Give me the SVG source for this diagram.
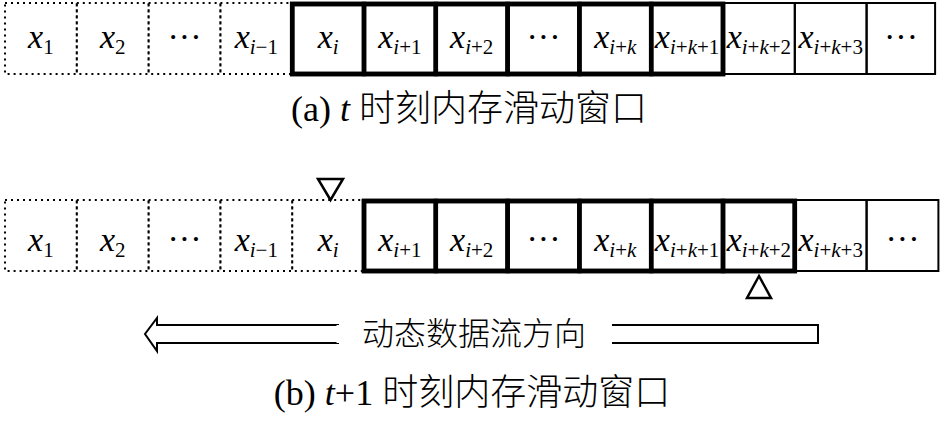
<svg xmlns="http://www.w3.org/2000/svg" width="945" height="423" viewBox="0 0 945 423">
<defs>
<style>
.dot{fill:none;stroke:#000;stroke-width:2;stroke-dasharray:2 4}
.thin{fill:none;stroke:#000;stroke-width:2}
.thick{fill:none;stroke:#000;stroke-width:4.5}
.lbl{font-size:34px;font-style:italic;text-anchor:middle;fill:#000}
.sub{font-size:21px}
.up{font-style:normal}
.cap{font-size:36px;fill:#000;text-anchor:middle}
.tri{fill:#fff;stroke:#000;stroke-width:2.5;stroke-linejoin:miter}
</style>
</defs>
<rect width="945" height="423" fill="#fff"/>

<g font-family="'Liberation Serif', serif">
<!-- Top row (a) -->
<g id="row-a">
<g id="a-x1"><rect class="dot" x="5" y="3" width="71.8" height="71"/><text class="lbl" x="40.9" y="48">x<tspan class="sub up" dy="6">1</tspan></text></g>
<g id="a-x2"><rect class="dot" x="76.8" y="3" width="71.8" height="71"/><text class="lbl" x="112.7" y="48">x<tspan class="sub up" dy="6">2</tspan></text></g>
<g id="a-dots1"><rect class="dot" x="148.6" y="3" width="71.8" height="71"/><text class="lbl up" x="184.5" y="48">···</text></g>
<g id="a-xim1"><rect class="dot" x="220.4" y="3" width="71.8" height="71"/><text class="lbl" x="256.3" y="48">x<tspan class="sub" dy="6">i</tspan><tspan class="sub up">−1</tspan></text></g>
<g id="a-xi"><rect class="thick" x="292.2" y="4" width="71.8" height="70"/><text class="lbl" x="328.1" y="48">x<tspan class="sub" dy="6">i</tspan></text></g>
<g id="a-xi1"><rect class="thick" x="364" y="4" width="71.8" height="70"/><text class="lbl" x="399.9" y="48">x<tspan class="sub" dy="6">i</tspan><tspan class="sub up">+1</tspan></text></g>
<g id="a-xi2"><rect class="thick" x="435.8" y="4" width="71.8" height="70"/><text class="lbl" x="471.7" y="48">x<tspan class="sub" dy="6">i</tspan><tspan class="sub up">+2</tspan></text></g>
<g id="a-dots2"><rect class="thick" x="507.6" y="4" width="71.8" height="70"/><text class="lbl up" x="543.5" y="48">···</text></g>
<g id="a-xik"><rect class="thick" x="579.4" y="4" width="71.8" height="70"/><text class="lbl" x="615.3" y="48">x<tspan class="sub" dy="6">i</tspan><tspan class="sub up">+</tspan><tspan class="sub">k</tspan></text></g>
<g id="a-xik1"><rect class="thick" x="651.2" y="4" width="71.8" height="70"/><text class="lbl" x="687.1" y="48">x<tspan class="sub" dy="6">i</tspan><tspan class="sub up">+</tspan><tspan class="sub">k</tspan><tspan class="sub up">+1</tspan></text></g>
<g id="a-xik2"><rect class="thin" x="723" y="3" width="71.8" height="71"/><text class="lbl" x="758.9" y="48">x<tspan class="sub" dy="6">i</tspan><tspan class="sub up">+</tspan><tspan class="sub">k</tspan><tspan class="sub up">+2</tspan></text></g>
<g id="a-xik3"><rect class="thin" x="794.8" y="3" width="71.8" height="71"/><text class="lbl" x="830.7" y="48">x<tspan class="sub" dy="6">i</tspan><tspan class="sub up">+</tspan><tspan class="sub">k</tspan><tspan class="sub up">+3</tspan></text></g>
<g id="a-dots3"><rect class="thin" x="866.6" y="3" width="68.5" height="71"/><text class="lbl up" x="901" y="48">···</text></g>
<rect class="thick" x="292.2" y="4" width="430.8" height="70"/>
</g>

<!-- Bottom row (b) -->
<g id="row-b">
<g id="b-x1"><rect class="dot" x="5" y="200" width="71.8" height="71"/><text class="lbl" x="40.9" y="251">x<tspan class="sub up" dy="6">1</tspan></text></g>
<g id="b-x2"><rect class="dot" x="76.8" y="200" width="71.8" height="71"/><text class="lbl" x="112.7" y="251">x<tspan class="sub up" dy="6">2</tspan></text></g>
<g id="b-dots1"><rect class="dot" x="148.6" y="200" width="71.8" height="71"/><text class="lbl up" x="184.5" y="250">···</text></g>
<g id="b-xim1"><rect class="dot" x="220.4" y="200" width="71.8" height="71"/><text class="lbl" x="256.3" y="251">x<tspan class="sub" dy="6">i</tspan><tspan class="sub up">−1</tspan></text></g>
<g id="b-xi"><rect class="dot" x="292.2" y="200" width="71.8" height="71"/><text class="lbl" x="328.1" y="251">x<tspan class="sub" dy="6">i</tspan></text></g>
<g id="b-xi1"><rect class="thick" x="364" y="201" width="71.8" height="70"/><text class="lbl" x="399.9" y="251">x<tspan class="sub" dy="6">i</tspan><tspan class="sub up">+1</tspan></text></g>
<g id="b-xi2"><rect class="thick" x="435.8" y="201" width="71.8" height="70"/><text class="lbl" x="471.7" y="251">x<tspan class="sub" dy="6">i</tspan><tspan class="sub up">+2</tspan></text></g>
<g id="b-dots2"><rect class="thick" x="507.6" y="201" width="71.8" height="70"/><text class="lbl up" x="543.5" y="250">···</text></g>
<g id="b-xik"><rect class="thick" x="579.4" y="201" width="71.8" height="70"/><text class="lbl" x="615.3" y="251">x<tspan class="sub" dy="6">i</tspan><tspan class="sub up">+</tspan><tspan class="sub">k</tspan></text></g>
<g id="b-xik1"><rect class="thick" x="651.2" y="201" width="71.8" height="70"/><text class="lbl" x="687.1" y="251">x<tspan class="sub" dy="6">i</tspan><tspan class="sub up">+</tspan><tspan class="sub">k</tspan><tspan class="sub up">+1</tspan></text></g>
<g id="b-xik2"><rect class="thick" x="723" y="201" width="71.8" height="70"/><text class="lbl" x="758.9" y="251">x<tspan class="sub" dy="6">i</tspan><tspan class="sub up">+</tspan><tspan class="sub">k</tspan><tspan class="sub up">+2</tspan></text></g>
<g id="b-xik3"><rect class="thin" x="794.8" y="200" width="71.8" height="71"/><text class="lbl" x="830.7" y="251">x<tspan class="sub" dy="6">i</tspan><tspan class="sub up">+</tspan><tspan class="sub">k</tspan><tspan class="sub up">+3</tspan></text></g>
<g id="b-dots3"><rect class="thin" x="866.6" y="200" width="71.8" height="71"/><text class="lbl up" x="902.5" y="250">···</text></g>
<rect class="thick" x="364" y="201" width="430.8" height="70"/>
</g>
</g>

<g id="cap-a"><text class="cap" x="469" y="121" font-family="'Liberation Serif', 'Noto Sans CJK SC', serif">(a) <tspan font-style="italic">t</tspan> <tspan font-family="'Noto Sans CJK SC', sans-serif" font-weight="300">时刻内存滑动窗口</tspan></text></g>

<g id="pointers">
<polygon class="tri" points="318,179 343,179 330.5,200"/>
<polygon class="tri" points="747,298 771,298 759,276"/>
</g>

<g id="connectors">
<polygon points="338,325 157,325 157,318 145,334 157,351 157,343 338,343" fill="#fff" stroke="#000" stroke-width="2"/>
<line x1="338" y1="325" x2="338" y2="343" stroke="#fff" stroke-width="3"/>
<path d="M612,325 H818 V343 H612" fill="#fff" stroke="#000" stroke-width="2"/>
</g>
<g id="flow-label"><text x="474" y="345" font-size="32" text-anchor="middle" font-family="'Noto Sans CJK SC', sans-serif" font-weight="300">动态数据流方向</text></g>

<g id="cap-b"><text class="cap" x="472" y="405" font-family="'Liberation Serif', 'Noto Sans CJK SC', serif">(b) <tspan font-style="italic">t</tspan>+1 <tspan font-family="'Noto Sans CJK SC', sans-serif" font-weight="300">时刻内存滑动窗口</tspan></text></g>
</svg>
